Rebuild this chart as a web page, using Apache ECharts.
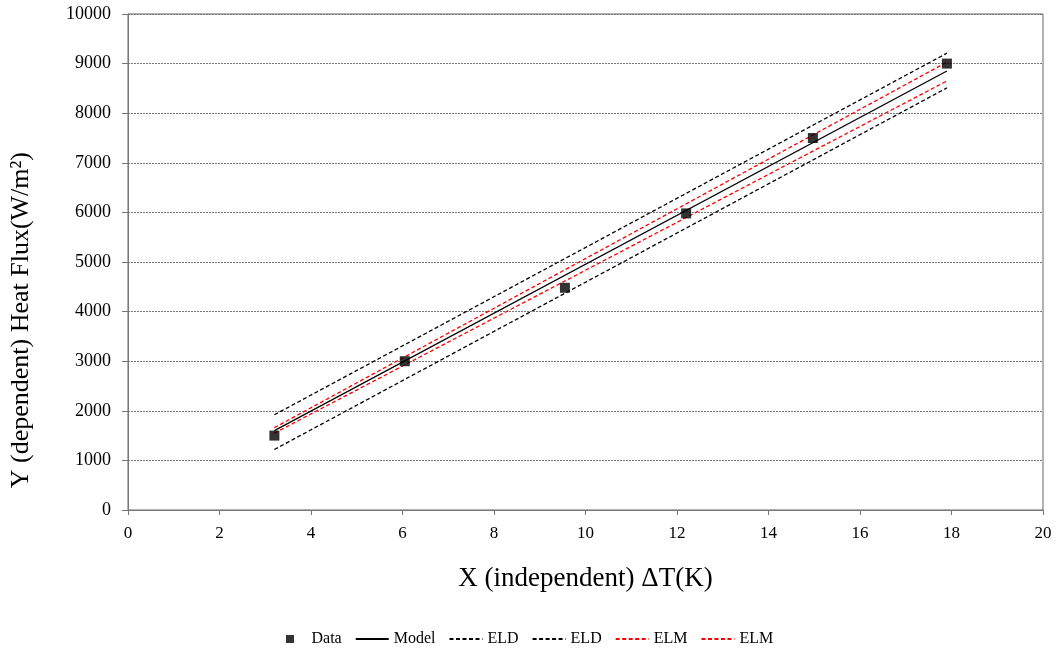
<!DOCTYPE html>
<html>
<head>
<meta charset="utf-8">
<title>Heat Flux</title>
<script src="https://cdn.jsdelivr.net/npm/echarts@6/dist/echarts.min.js"></script>
<style>
  html, body { margin: 0; padding: 0; background: #fff; }
  #chart { width: 1062px; height: 651px; }
</style>
</head>
<body>
<div id="chart"></div>
<script>
// measured points
const dataX = [3.2, 6.05, 9.55, 12.2, 14.97, 17.9]
const dataY = [1500, 3000, 4480, 5980, 7500, 9000]

// fitted line and bands, read at both ends (x = 3.2 and x = 17.9)
const lineX = [3.2, 17.9]
const modelY = [1600, 8850]
const eldUpperY = [1920, 9210]
const eldLowerY = [1220, 8510]
const elmUpperY = [1660, 9030]
const elmLowerY = [1550, 8650]

const font = '"Liberation Serif", serif'

function pairs (xs, ys) {
  return xs.map((x, i) => [x, ys[i]])
}

function bandSeries (name, ys, color, dashed) {
  return {
    name: name,
    type: 'line',
    data: pairs(lineX, ys),
    showSymbol: false,
    symbol: 'none',
    silent: true,
    lineStyle: {
      color: color,
      width: 1.3,
      type: dashed ? [4, 2.5] : 'solid'
    },
    z: 2
  }
}

// legend entry: keep the line, hide the little symbol on it
function lineItem (name) {
  return { name: name, itemStyle: { opacity: 0 } }
}

const chart = echarts.init(document.getElementById('chart'))
chart.setOption({
  backgroundColor: '#ffffff',
  animation: false,
  textStyle: { fontFamily: font },
  grid: {
    left: 128,
    right: 19,
    top: 14,
    bottom: 141,
    show: true,
    borderColor: '#666',
    borderWidth: 1
  },
  legend: {
    left: 281,
    top: 626,
    itemWidth: 33,
    itemHeight: 8,
    itemGap: 13,
    textStyle: { fontFamily: font, fontSize: 16, color: '#000' },
    formatter: name => name.split(' ')[0],
    data: [
      { name: 'Data', icon: 'path://M0,0 L8,0 L8,8 L0,8 Z' },
      lineItem('Model'), lineItem('ELD upper'), lineItem('ELD lower'),
      lineItem('ELM upper'), lineItem('ELM lower')
    ]
  },
  xAxis: {
    type: 'value',
    min: 0,
    max: 20,
    interval: 2,
    name: 'X (independent) ΔT(K)',
    nameLocation: 'middle',
    nameGap: 55,
    nameTextStyle: { fontFamily: font, fontSize: 27, color: '#000' },
    axisLine: { onZero: false, lineStyle: { color: '#777' } },
    axisTick: { show: true, length: 5, lineStyle: { color: '#777' } },
    axisLabel: { fontFamily: font, fontSize: 17, color: '#000', margin: 15 },
    splitLine: { show: false }
  },
  yAxis: {
    type: 'value',
    min: 0,
    max: 10000,
    interval: 1000,
    axisLine: { show: true, lineStyle: { color: '#777' } },
    axisTick: { show: true, inside: false, length: 6, lineStyle: { color: '#777' } },
    axisLabel: {
      fontFamily: font,
      fontSize: 18,
      color: '#000',
      margin: 17,
      formatter: v => String(v)
    },
    splitLine: {
      show: true,
      lineStyle: { color: '#777', type: [2, 1], width: 1 }
    }
  },
  graphic: [{
    type: 'text',
    left: 8,
    top: 152,
    rotation: Math.PI / 2,
    style: {
      text: 'Y (dependent) Heat Flux(W/m²)',
      font: '26px "Liberation Serif", serif',
      fill: '#000'
    }
  }],
  series: [
    {
      name: 'Data',
      type: 'scatter',
      symbol: 'rect',
      symbolSize: 10,
      itemStyle: { color: '#000' },
      data: pairs(dataX, dataY),
      z: 5
    },
    bandSeries('Model', modelY, '#000', false),
    bandSeries('ELD upper', eldUpperY, '#000', true),
    bandSeries('ELD lower', eldLowerY, '#000', true),
    bandSeries('ELM upper', elmUpperY, '#ff0000', true),
    bandSeries('ELM lower', elmLowerY, '#ff0000', true)
  ]
})
</script>
</body>
</html>
